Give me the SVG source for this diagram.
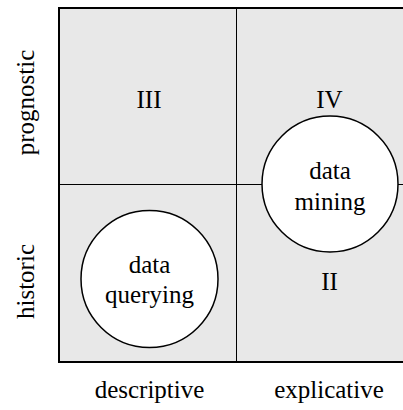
<svg xmlns="http://www.w3.org/2000/svg" width="403" height="410" viewBox="0 0 403 410">
<style>
text{font-family:"Liberation Serif","Times New Roman",serif;font-size:25px;fill:#000;text-anchor:middle}
.node{fill:#fff;stroke:#000;stroke-width:1.5}
.div{stroke:#000;stroke-width:1;fill:none}
</style>
<rect x="0" y="0" width="403" height="410" fill="#fff"/>
<g id="grid">
<rect x="59" y="8" width="350" height="354" fill="#e8e8e8" stroke="#000" stroke-width="2"/>
<line class="div" x1="236.5" y1="8" x2="236.5" y2="362"/>
<line class="div" x1="59" y1="184.5" x2="403" y2="184.5"/>
</g>
<g id="q3"><text x="149" y="108">III</text></g>
<g id="q4"><text x="329.5" y="108">IV</text></g>
<g id="q2"><text x="329.5" y="290">II</text></g>
<g id="data-mining">
<circle class="node" cx="330" cy="184" r="68"/>
<text x="330" y="179">data</text>
<text x="330" y="210">mining</text>
</g>
<g id="data-querying">
<circle class="node" cx="149.5" cy="279" r="68.5"/>
<text x="149.5" y="273">data</text>
<text x="149.5" y="303">querying</text>
</g>
<g id="axis-labels">
<text x="149.5" y="398">descriptive</text>
<text x="329" y="398">explicative</text>
<text transform="translate(33.5,102.5) rotate(-90)">prognostic</text>
<text transform="translate(33.5,281.5) rotate(-90)">historic</text>
</g>
</svg>
